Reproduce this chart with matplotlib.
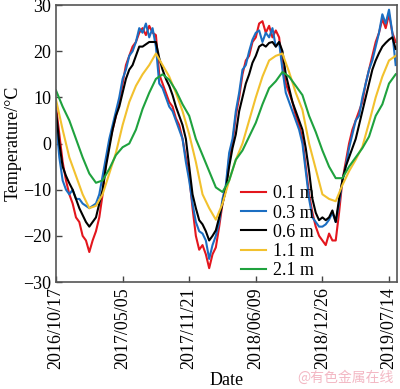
import numpy as np
import pandas as pd
import matplotlib
matplotlib.use("Agg")
import matplotlib.pyplot as plt
import matplotlib.dates as mdates

start = pd.Timestamp("2016-10-17")

# values, every 10 days (shallow) / 20 days (deep)
t01 = [8, 2, -4, -8, -11, -13, -16, -17, -20, -21, -23.5, -21, -19, -16, -11, -4, 0, 3, 6, 9,
       13, 17, 19, 21, 22, 24, 25, 23.5, 25.5, 24, 23.5, 15, 13, 11, 9, 8, 5.5, 4, 1, -3,
       -7, -14, -20, -23, -22, -24, -27, -24, -22.5, -18, -13, -10, -3, 0, 6, 10, 15, 18, 19, 22,
       23, 26, 26.5, 24, 25.5, 23, 24.5, 23, 17, 13, 11, 9, 6, 4, 1, -5, -11, -15, -18, -20,
       -21, -22, -19.5, -21, -21, -15, -8, -4, 0, 3, 5, 7, 9, 13, 16, 19, 22, 24, 27, 25,
       28, 24, 22]
t03 = [5, -3, -8, -10, -11, -10, -12, -12, -13, -13.5, -14, -13.5, -13, -11, -7, -3, 1, 4, 7, 10,
       14, 16, 19, 20, 22, 25, 24, 26, 23, 25, 21, 13, 12, 10, 8, 7, 5, 3, 1, -4,
       -8, -13, -17, -19, -19.5, -21, -25, -22, -20, -17, -12, -9, -2, 1, 7, 11, 16, 17, 20, 22.5,
       24, 24.5, 22, 24, 23, 25, 21, 22, 16, 11, 9, 7, 5, 3, 0, -6, -12, -16, -17, -18,
       -18, -17.5, -16.5, -15, -17, -13, -8, -5, -1, 2, 5, 6, 10, 13, 16, 18, 21, 24, 28, 26,
       29, 24, 17]
t06 = [7, 0, -5, -7, -8.6, -10, -12, -14, -15.5, -17, -18, -17, -16, -13, -10, -5, -1, 3, 6, 8,
       11, 14, 16, 17, 19, 21, 21, 21.5, 22, 22, 22, 18.5, 16, 14, 12.5, 10.5, 8, 6, 4, 1,
       -5, -11, -14, -16.6, -17.5, -19, -21, -20, -18.8, -16, -13, -10, -5, -1, 2, 7, 10, 13, 15, 17.5,
       19, 21, 21.5, 21, 21.8, 22, 21, 22, 20, 15, 12, 9, 7, 5, 3, -1, -6, -12, -15, -16.6,
       -16, -16.6, -16, -14.5, -17, -12, -8, -5, -3, -1, 1, 4, 7, 10, 13, 16, 18, 19.6, 21, 21.8,
       22.5, 23, 20.5]
t11 = [9.5, 3, -3, -7, -11, -14, -13.5, -11, -6.5, -2, 4, 9, 12.5, 15, 17, 19.5, 17, 14.5, 11, 7,
       2, -4, -11, -14, -16.5, -13, -8, -3.5, 0, 5, 10, 14.5, 18, 19, 19.5, 15.5, 11, 7.3, 0, -5.5,
       -11, -12, -12.5, -9, -6, -3.5, -0.7, 4.5, 10, 14.5, 18, 19]
t21 = [11.5, 8, 5, 1, -3, -6.5, -8.5, -8, -5.5, -2.5, -0.8, 0, 3, 7.5, 11, 14, 15, 13.8, 11.5, 8.5,
       6, 1, -2.5, -6, -9.5, -10.5, -8, -3.5, -1.5, 1.5, 4.5, 8.5, 12, 13.5, 15.5, 14.5, 12.5, 10.5, 6, 2.5,
       -1.5, -5, -7.5, -7.5, -5, -3, -1, 1.5, 6, 8.5, 13, 15]

labels = ["0.1 m", "0.3 m", "0.6 m", "1.1 m", "2.1 m"]
colors = ["#e3161d", "#1b6ec2", "#000000", "#f2c12e", "#1fa23e"]

d10 = pd.date_range(start, periods=len(t01), freq="10D")
d20 = pd.date_range(start, periods=len(t11), freq="20D")

plt.rcParams["font.family"] = ["Liberation Serif", "DejaVu Serif"]
plt.rcParams["font.size"] = 13

fig = plt.figure(figsize=(4.0, 3.89), dpi=100)
ax = fig.add_axes([0.14, 0.275, 0.8525, 0.712])

series = [(d10, t01), (d10, t03), (d10, t06), (d20, t11), (d20, t21)]
for (d, v), lab, c in zip(series, labels, colors):
    ax.plot(d, v, color=c, lw=1.5, label=lab)

ax.set_ylim(-30, 30)
ax.set_yticks([-30, -20, -10, 0, 10, 20, 30])
ax.set_yticklabels(["\u221230", "\u221220", "\u221210", "0", "10", "20", "30"])
ax.set_xlim(start, start + pd.Timedelta(days=1024))
ticks = [start + pd.Timedelta(days=200 * k) for k in range(6)]
ax.set_xticks(ticks)
ax.xaxis.set_major_formatter(mdates.DateFormatter("%Y/%m/%d"))
plt.setp(ax.get_xticklabels(), rotation=90)
ax.tick_params(direction="in", length=4, width=1, colors="#444444", labelcolor="black", labelsize=13)
for s in ax.spines.values():
    s.set_color("#555555")
    s.set_linewidth(1.2)

ax.set_ylabel("Temperature/\u00b0C", fontsize=13, labelpad=1)
ax.set_xlabel("Date", fontsize=13, labelpad=2)

ax.legend(loc="upper left", bbox_to_anchor=(0.52, 0.375), frameon=False, fontsize=13,
          handlelength=1.4, handletextpad=0.4, labelspacing=0.12, borderaxespad=0)

fig.text(0.985, 0.01, "@有色金属在线", ha="right", va="bottom", fontsize=10,
         color="#f3b8c4", family=["Noto Sans CJK SC", "DejaVu Sans"])

fig.savefig("out.png", dpi=100)
